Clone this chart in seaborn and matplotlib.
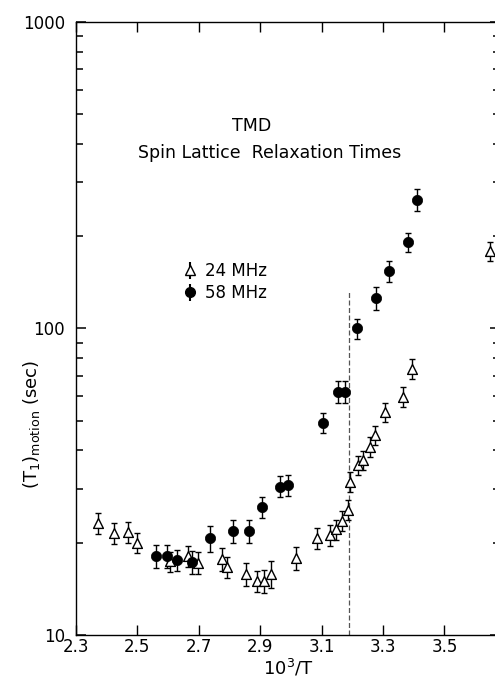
import numpy as np
import pandas as pd
import matplotlib
matplotlib.use('Agg')
import matplotlib.pyplot as plt
from matplotlib.ticker import LogLocator, NullFormatter
import seaborn as sns

# data: 10^3/T and (T1)motion in sec
tri_x = [2.371, 2.425, 2.470, 2.498, 2.606, 2.664, 2.698, 2.777, 2.793, 2.853,
         2.888, 2.912, 2.936, 3.018, 3.084, 3.127, 3.146, 3.167, 3.187, 3.193,
         3.220, 3.234, 3.258, 3.274, 3.307, 3.364, 3.395, 3.649]
tri_y = [23.2, 21.5, 21.7, 20.0, 17.4, 18.1, 17.2, 17.7, 16.7, 15.8,
         15.0, 15.0, 15.8, 17.8, 20.7, 21.2, 22.1, 23.6, 25.6, 31.6,
         35.9, 37.2, 41.2, 44.9, 53.3, 59.9, 73.8, 179]
tri_err = [1.8, 1.7, 1.7, 1.5, 1.3, 1.4, 1.4, 1.5, 1.3, 1.4,
           1.2, 1.3, 1.6, 1.5, 1.6, 1.7, 1.7, 1.8, 1.9, 2.3,
           2.6, 2.7, 3.0, 3.2, 3.8, 4.4, 5.5, 13]

circ_x = [2.560, 2.595, 2.628, 2.679, 2.736, 2.812, 2.865, 2.907, 2.964,
          2.992, 3.106, 3.154, 3.176, 3.214, 3.277, 3.320, 3.380, 3.410]
circ_y = [18.1, 18.1, 17.6, 17.3, 20.7, 21.8, 21.8, 26.2, 30.5,
          30.9, 49.3, 62.2, 62.2, 100, 126, 154, 191, 263]
circ_err = [1.6, 1.6, 1.4, 1.5, 2.0, 1.9, 1.9, 2.1, 2.4,
            2.4, 3.8, 5.0, 5.0, 7.5, 11, 12, 14, 22]

labels = ['24 MHz', '58 MHz']
xticks = [2.3, 2.5, 2.7, 2.9, 3.1, 3.3, 3.5]
yticks = [10, 100, 1000]
dash_x = 3.19
dash_top = 134

df = pd.DataFrame({
    'x': tri_x + circ_x,
    'y': tri_y + circ_y,
    'freq': [labels[0]] * len(tri_x) + [labels[1]] * len(circ_x),
})

sns.set_style('ticks')
plt.rcParams['font.family'] = ['DejaVu Sans']
plt.rcParams['text.color'] = 'black'
plt.rcParams['axes.labelcolor'] = 'black'
plt.rcParams['xtick.color'] = 'black'
plt.rcParams['ytick.color'] = 'black'
plt.rcParams['axes.edgecolor'] = 'black'
plt.rcParams['ytick.minor.visible'] = True

fig = plt.figure(figsize=(4.95, 6.83), dpi=100)
ax = fig.add_axes([0.1535, 0.0703, 0.8566, 0.8975])

# error bars first, markers on top
ax.errorbar(tri_x, tri_y, yerr=tri_err, fmt='none', ecolor='black',
            elinewidth=1.0, capsize=2, capthick=1.0, zorder=2)
ax.errorbar(circ_x, circ_y, yerr=circ_err, fmt='none', ecolor='black',
            elinewidth=1.0, capsize=2, capthick=1.0, zorder=2)

sns.scatterplot(data=df[df.freq == labels[0]], x='x', y='y', marker='^',
                s=50, facecolor='white', edgecolor='black', linewidth=1.0,
                ax=ax, zorder=3, legend=False)
sns.scatterplot(data=df[df.freq == labels[1]], x='x', y='y', marker='o',
                s=55, color='black', edgecolor='black', linewidth=0.5,
                ax=ax, zorder=3, legend=False)

ax.vlines(dash_x, 10, dash_top, colors='#555555', linestyles=(0, (4, 2)),
          linewidth=0.9, zorder=1)

ax.set_yscale('log')
ax.set_ylim(10, 1000)
ax.set_xlim(2.3, 3.681)
ax.set_xticks(xticks)
ax.set_xticklabels([str(t) for t in xticks])
ax.set_yticks(yticks)
ax.set_yticklabels([str(t) for t in yticks])
ax.yaxis.set_minor_locator(LogLocator(base=10, subs=np.arange(2, 10)))
ax.yaxis.set_minor_formatter(NullFormatter())

ax.tick_params(axis='x', which='major', direction='in', length=7, width=1,
               top=True, bottom=True, labelsize=12, pad=2)
ax.tick_params(axis='y', which='major', direction='in', length=7, width=1.1,
               left=True, right=True, labelsize=12, pad=8)
ax.tick_params(axis='y', which='minor', direction='in', length=5, width=1.1,
               left=True, right=True, color='black')
ax.tick_params(axis='x', which='minor', bottom=False, top=False)
for sp in ax.spines.values():
    sp.set_visible(True)
    sp.set_linewidth(1.0)

ax.set_xlabel(r'$10^3$/T', fontsize=13, labelpad=1)
ax.set_ylabel(r'$(\mathrm{T}_1)_{\mathrm{motion}}$ (sec)', fontsize=13)
ax.yaxis.set_label_coords(-0.08, 0.344)

ax.text(0.414, 0.83, 'TMD', transform=ax.transAxes, ha='center',
        va='center', fontsize=12.5)
ax.text(0.456, 0.786, 'Spin Lattice  Relaxation Times', transform=ax.transAxes,
        ha='center', va='center', fontsize=12.5)

h1 = ax.errorbar([], [], yerr=[], fmt='^', mfc='white', mec='black',
                 color='black', ms=7, capsize=2, label=labels[0])
h2 = ax.errorbar([], [], yerr=[], fmt='o', mfc='black', mec='black',
                 color='black', ms=7, capsize=2, label=labels[1])
ax.legend(handles=[h1, h2], loc='upper left', bbox_to_anchor=(0.233, 0.622),
          frameon=False, fontsize=12, handlelength=0.8, handletextpad=0.5,
          labelspacing=0.25, borderpad=0)

fig.savefig('out.png', dpi=100)
